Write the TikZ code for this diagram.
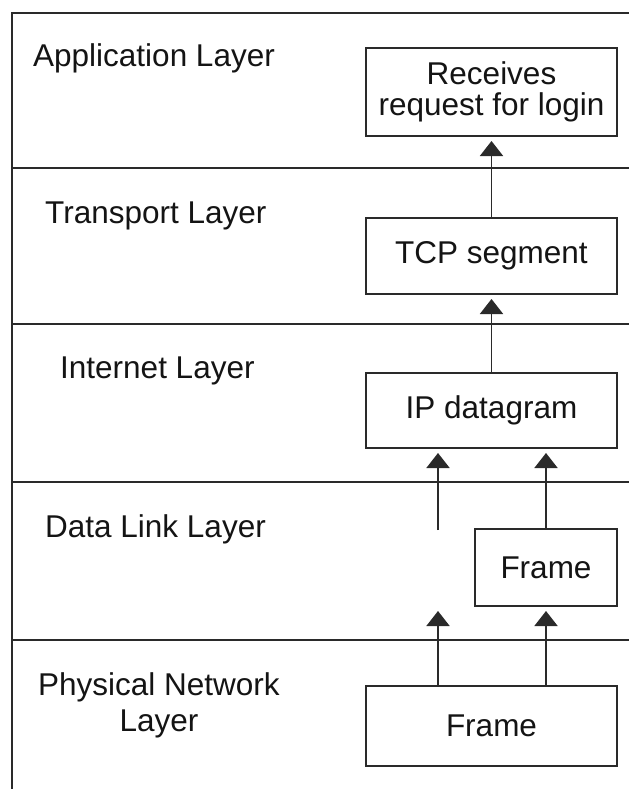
\documentclass[tikz,border=0pt]{standalone}
\usepackage{fontspec}
\setmainfont{Liberation Sans}
\usetikzlibrary{arrows.meta}
\definecolor{ln}{HTML}{2A2A2A}
\definecolor{tx}{HTML}{141414}
\begin{document}
\begin{tikzpicture}[x=1pt,y=-1pt,
  lbl/.style={anchor=base west,inner sep=0pt,text=tx,font=\fontsize{31.5}{36}\selectfont},
  box/.style={draw=ln,line width=2pt,inner sep=0pt,text=tx,font=\fontsize{31.5}{31}\selectfont,align=center},
  layerline/.style={draw=ln,line width=2pt},
  uparrow/.style={draw=ln,line width=1.8pt,-{Triangle[width=23pt,length=15pt]},shorten >=4pt}]
\useasboundingbox (0,0) rectangle (629,789);
\fill[white] (0,0) rectangle (629,789);
% frame and layer separators
\draw[layerline] (12,789) -- (12,13) -- (629,13);
\draw[layerline] (12,168) -- (629,168);
\draw[layerline] (12,324) -- (629,324);
\draw[layerline] (12,482) -- (629,482);
\draw[layerline] (12,640) -- (629,640);
% layer labels
\node[lbl] (app) at (33,67) {Application Layer};
\node[lbl] (trans) at (45,223) {Transport Layer};
\node[lbl] (inet) at (60,378) {Internet Layer};
\node[lbl] (dl) at (45,537) {Data Link Layer};
\node[lbl,anchor=base] (phys) at (159,695) {\begin{tabular}[t]{@{}c@{}}Physical Network\\Layer\end{tabular}};
% boxes
\node[box,minimum width=251pt,minimum height=88pt] (recv) at (491.5,92) {Receives\\request for login};
\node[box,minimum width=251pt,minimum height=76pt] (tcp) at (491.5,256) {TCP segment};
\node[box,minimum width=251pt,minimum height=75pt] (ip) at (491.5,410.5) {IP datagram};
\node[box,minimum width=142pt,minimum height=77pt] (frame2) at (546,567.5) {Frame};
\node[box,minimum width=251pt,minimum height=80pt] (frame1) at (491.5,725.5) {Frame};
% connectors
\coordinate (free1) at (438,530);
\draw[uparrow] (tcp.north) -- (recv.south);
\draw[uparrow] (ip.north) -- (tcp.south);
\draw[uparrow] (free1) -- (ip.south -| free1);
\draw[uparrow] (frame2.north) -- (ip.south -| frame2.north);
\draw[uparrow] (frame1.north -| free1) -- (frame2.south -| free1);
\draw[uparrow] (frame1.north -| frame2.north) -- (frame2.south);
\end{tikzpicture}
\end{document}
